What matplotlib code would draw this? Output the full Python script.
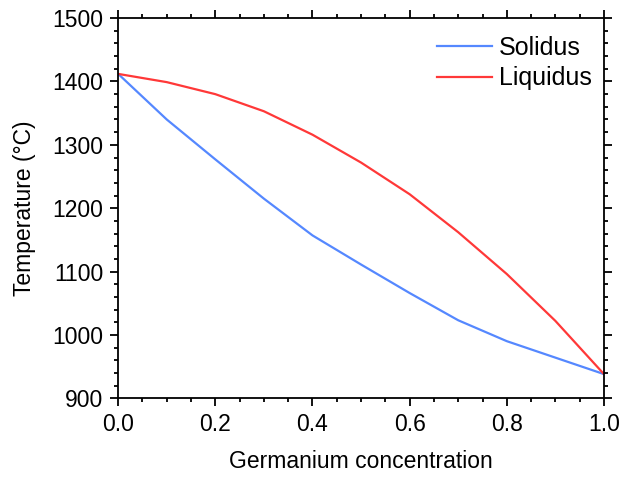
import matplotlib
matplotlib.use("Agg")
import matplotlib.pyplot as plt
from matplotlib.ticker import MultipleLocator

ge_conc = [0.0, 0.1, 0.2, 0.3, 0.4, 0.5, 0.6, 0.7, 0.8, 0.9, 1.0]
solidus = [1412, 1340, 1277, 1215, 1157, 1111, 1066, 1023, 990, 964, 938]
liquidus = [1412, 1399, 1380, 1353, 1316, 1272, 1222, 1162, 1096, 1022, 938]

plt.rcParams['font.family'] = ['Liberation Sans', 'DejaVu Sans']

fig = plt.figure(figsize=(6.22, 4.78), dpi=100)
ax = fig.add_axes([0.19, 0.167, 0.781, 0.795])

ax.plot(ge_conc, solidus, color="#5588ff", lw=1.6, label="Solidus")
ax.plot(ge_conc, liquidus, color="#ff3838", lw=1.6, label="Liquidus")

ax.set_xlim(0, 1)
ax.set_ylim(900, 1500)
ax.xaxis.set_major_locator(MultipleLocator(0.2))
ax.xaxis.set_minor_locator(MultipleLocator(0.05))
ax.yaxis.set_major_locator(MultipleLocator(100))
ax.yaxis.set_minor_locator(MultipleLocator(20))
ax.xaxis.set_major_formatter(plt.FormatStrFormatter("%.1f"))

ax.tick_params(which="both", direction="out", top=True, right=True, width=1.3, labelsize=16.5)
ax.tick_params(which="major", length=5.6)
ax.tick_params(which="minor", length=3)
ax.tick_params(axis="both", pad=5)
for s in ax.spines.values():
    s.set_linewidth(1.3)

ax.set_xlabel("Germanium concentration", fontsize=16.5, labelpad=10)
ax.set_ylabel("Temperature (°C)", fontsize=16.5, labelpad=12)

ax.legend(loc="upper right", bbox_to_anchor=(1.0, 0.984), frameon=False, fontsize=18,
          handlelength=2.2, handletextpad=0.3, labelspacing=0.25, borderaxespad=0.08)

fig.savefig("out.png", dpi=100)
